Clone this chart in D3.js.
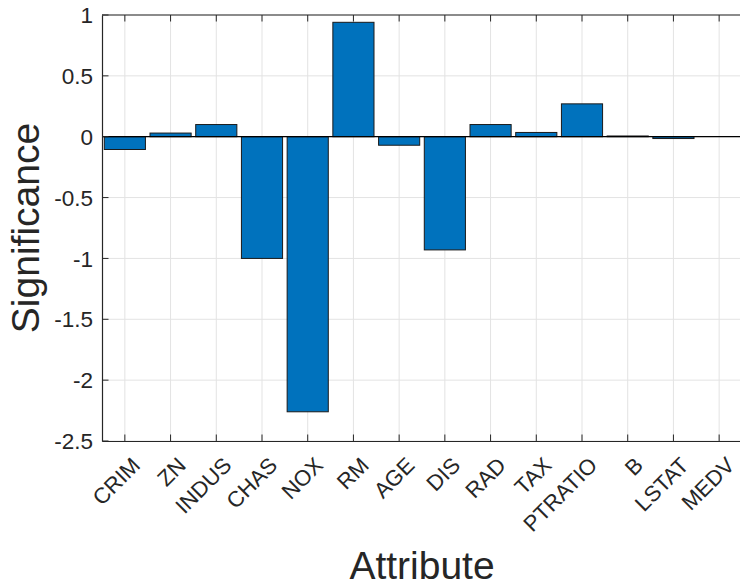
<!DOCTYPE html>
<html>
<head>
<meta charset="utf-8">
<script src="https://cdn.jsdelivr.net/npm/d3@7"></script>
<style>
  html, body { margin: 0; padding: 0; background: #fff; }
  svg { display: block; font-family: "Liberation Sans", Arial, Helvetica, sans-serif; }
</style>
</head>
<body>
<svg id="chart" width="740" height="582"></svg>
<script>
const categories = ["CRIM","ZN","INDUS","CHAS","NOX","RM","AGE","DIS","RAD","TAX","PTRATIO","B","LSTAT","MEDV"];
const values = [-0.105, 0.03, 0.10, -1.0, -2.26, 0.94, -0.07, -0.93, 0.10, 0.035, 0.27, 0.006, -0.015, 0.0];
const yTicks = [-2.5, -2, -1.5, -1, -0.5, 0, 0.5, 1];
const yTickLabels = ["-2.5","-2","-1.5","-1","-0.5","0","0.5","1"];
const xLabel = "Attribute";
const yLabel = "Significance";

(function () {
const svg = d3.select("#chart");
const pL = 102, pR = 742, pT = 15, pB = 441;

const x = d3.scaleLinear().domain([0.5, categories.length + 0.5]).range([pL, pR]);
const y = d3.scaleLinear().domain([-2.5, 1]).range([pB, pT]);
const idx = categories.map((c, i) => i + 1);
const bw = (x(1) - x(0)) * 0.9;

const axisColor = "#262626";
const gridColor = "#e3e3e3";

// grid
svg.append("g").selectAll("line").data(idx).join("line")
  .attr("x1", d => x(d)).attr("x2", d => x(d))
  .attr("y1", pT).attr("y2", pB)
  .attr("stroke", gridColor).attr("stroke-width", 1);
svg.append("g").selectAll("line").data(yTicks).join("line")
  .attr("x1", pL).attr("x2", pR)
  .attr("y1", d => y(d)).attr("y2", d => y(d))
  .attr("stroke", gridColor).attr("stroke-width", 1);

// bars
svg.append("g").selectAll("rect").data(values).join("rect")
  .attr("x", (d, i) => x(i + 1) - bw / 2)
  .attr("width", bw)
  .attr("y", d => y(Math.max(0, d)))
  .attr("height", d => Math.abs(y(d) - y(0)))
  .attr("fill", "#0072BD")
  .attr("stroke", "#1a1a1a")
  .attr("stroke-width", 1);

// baseline
svg.append("line")
  .attr("x1", pL).attr("x2", pR)
  .attr("y1", y(0)).attr("y2", y(0))
  .attr("stroke", "#000").attr("stroke-width", 1.2);

// axes (box)
const tl = 6.5;
const bottomAxis = d3.axisBottom(x).tickValues(idx).tickFormat("").tickSize(0);
svg.append("g").attr("transform", `translate(0,${pB})`).call(bottomAxis)
  .call(g => g.select(".domain").attr("stroke", axisColor).attr("stroke-width", 1.2));
svg.append("g").selectAll("line").data(idx).join("line")
  .attr("x1", d => x(d)).attr("x2", d => x(d))
  .attr("y1", pB).attr("y2", pB - tl)
  .attr("stroke", axisColor);
svg.append("g").selectAll("line").data(idx).join("line")
  .attr("x1", d => x(d)).attr("x2", d => x(d))
  .attr("y1", pT).attr("y2", pT + tl)
  .attr("stroke", axisColor);
svg.append("line").attr("x1", pL).attr("x2", pR).attr("y1", pT).attr("y2", pT)
  .attr("stroke", axisColor).attr("stroke-width", 1.2);

const leftAxis = d3.axisLeft(y).tickValues(yTicks).tickFormat("").tickSize(0);
svg.append("g").attr("transform", `translate(${pL},0)`).call(leftAxis)
  .call(g => g.select(".domain").attr("stroke", axisColor).attr("stroke-width", 1.2));
svg.append("g").selectAll("line").data(yTicks).join("line")
  .attr("x1", pL).attr("x2", pL + tl)
  .attr("y1", d => y(d)).attr("y2", d => y(d))
  .attr("stroke", axisColor);

// y tick labels
svg.append("g").selectAll("text").data(yTicks).join("text")
  .attr("x", pL - 9)
  .attr("y", d => y(d))
  .attr("dy", "0.36em")
  .attr("text-anchor", "end")
  .attr("font-size", 22.5)
  .attr("fill", axisColor)
  .text((d, i) => yTickLabels[i]);

// x tick labels (rotated)
svg.append("g").selectAll("text").data(categories).join("text")
  .attr("transform", (d, i) => `translate(${x(i + 1) + 5},${pB + 14}) rotate(-45)`)
  .attr("text-anchor", "end")
  .attr("dy", "0.75em")
  .attr("font-size", 22)
  .attr("fill", axisColor)
  .text(d => d);

// axis labels
svg.append("text")
  .attr("x", (pL + pR) / 2).attr("y", 579)
  .attr("text-anchor", "middle")
  .attr("font-size", 39)
  .attr("fill", axisColor)
  .text(xLabel);
svg.append("text")
  .attr("transform", `translate(39,${(pT + pB) / 2}) rotate(-90)`)
  .attr("text-anchor", "middle")
  .attr("font-size", 39)
  .attr("fill", axisColor)
  .text(yLabel);
})();
</script>
</body>
</html>
